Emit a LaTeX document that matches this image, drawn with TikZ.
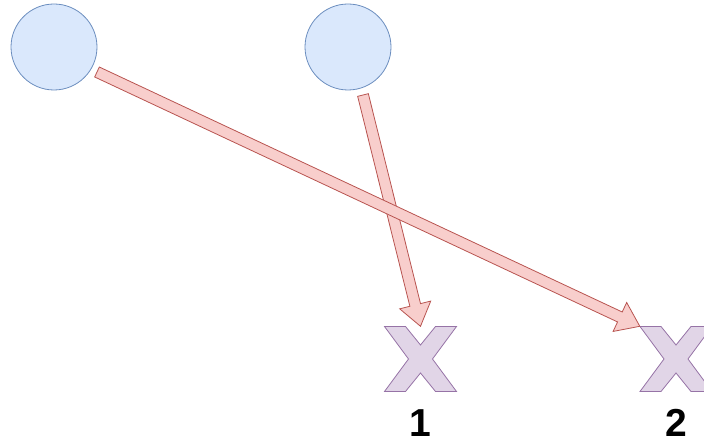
\documentclass[tikz,border=0pt]{standalone}
\usepackage{fontspec}
\setsansfont{Liberation Sans}
\usepackage{tikz}
\usetikzlibrary{calc}
\definecolor{bluefill}{HTML}{DAE8FC}
\definecolor{blueline}{HTML}{6C8EBF}
\definecolor{redfill}{HTML}{F8CECC}
\definecolor{redline}{HTML}{B85450}
\definecolor{lilacfill}{HTML}{E1D5E7}
\definecolor{lilacline}{HTML}{9673A6}
\newcommand{\blockarrow}[2]{%
  \coordinate (h) at ($(#2)!22pt!(#1)$);
  \draw[flexarrow] ($(#1)!5.5pt!90:(#2)$) -- ($(h)!5.5pt!90:(#2)$) -- ($(h)!16pt!90:(#2)$)
    -- (#2) -- ($(h)!16pt!-90:(#2)$) -- ($(h)!5.5pt!-90:(#2)$) -- ($(#1)!5.5pt!-90:(#2)$) -- cycle;}

\begin{document}
\begin{tikzpicture}[x=1pt,y=-1pt,
  ball/.style={circle,draw=blueline,fill=bluefill,line width=0.8pt,minimum size=86pt,inner sep=0pt},
  xmark/.style={minimum width=72pt,minimum height=65pt,inner sep=0pt},
  flexarrow/.style={draw=redline,fill=redfill,line width=0.8pt,line join=miter},
  num/.style={font=\sffamily\bfseries\fontsize{39}{39}\selectfont,inner sep=0pt,anchor=base}]
\useasboundingbox (0,0) rectangle (704,443);
\node[ball] (c1) at (54,47) {};
\node[ball] (c2) at (348,47) {};
\node[xmark] (x1) at (420.5,359) {};
\node[xmark] (x2) at (676,359) {};
\foreach \n in {x1,x2}
  \draw[draw=lilacline,fill=lilacfill,line width=0.8pt,shift={(\n)}]
    (-36,-32.5) -- (-15,-32.5) -- (0,-14) -- (15,-32.5) -- (36,-32.5) -- (12,0)
    -- (36,32.5) -- (15,32.5) -- (0,14) -- (-15,32.5) -- (-36,32.5) -- (-12,0) -- cycle;
\node[num] (n1) at (420,436) {1};
\node[num] (n2) at (676,436) {2};
\coordinate (t2) at (363,95);
\coordinate (t1) at (97,72);
\blockarrow{t2}{x1.north}
\blockarrow{t1}{x2.north west}
\end{tikzpicture}
\end{document}
